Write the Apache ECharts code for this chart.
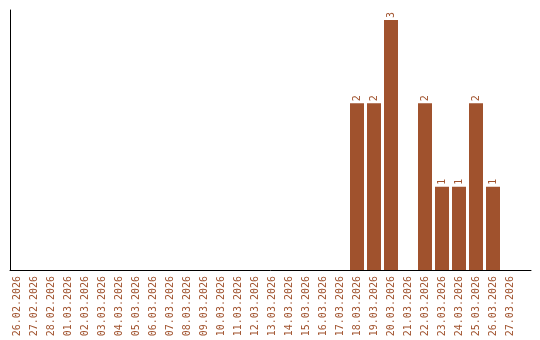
<!DOCTYPE html>
<html>
<head>
<meta charset="utf-8">
<script src="https://cdn.jsdelivr.net/npm/echarts@6/dist/echarts.min.js"></script>
<style>html,body{margin:0;padding:0;background:#fff}#c{width:540px;height:340px}</style>
</head>
<body>
<div id="c"></div>
<script>
var categories = ["26.02.2026","27.02.2026","28.02.2026","01.03.2026","02.03.2026","03.03.2026","04.03.2026","05.03.2026","06.03.2026","07.03.2026","08.03.2026","09.03.2026","10.03.2026","11.03.2026","12.03.2026","13.03.2026","14.03.2026","15.03.2026","16.03.2026","17.03.2026","18.03.2026","19.03.2026","20.03.2026","21.03.2026","22.03.2026","23.03.2026","24.03.2026","25.03.2026","26.03.2026","27.03.2026"];
var values = [0,0,0,0,0,0,0,0,0,0,0,0,0,0,0,0,0,0,0,0,2,2,3,0,2,1,1,2,1,0];
var barColor = "#A0522D";
var font = "DejaVu Sans Mono";

var chart = echarts.init(document.getElementById('c'), null, {renderer: 'canvas'});
chart.setOption({
  animation: false,
  grid: [
    {left: 8.5, width: 510, top: 10, height: 260},
    {left: 10, right: 9, top: 10, height: 260}
  ],
  xAxis: [
    {type: 'category', gridIndex: 0, data: categories,
     axisLine: {show: false}, axisTick: {show: false},
     axisLabel: {rotate: 90, interval: 0, color: barColor, fontFamily: font, fontSize: 10, margin: 6}},
    {type: 'value', gridIndex: 1, min: 0, max: 1,
     axisLine: {show: true, lineStyle: {color: '#000', width: 1}}, axisTick: {show: false},
     axisLabel: {show: false}, splitLine: {show: false}}
  ],
  yAxis: [
    {type: 'value', gridIndex: 0, min: 0, max: 3.12,
     axisLine: {show: false}, axisTick: {show: false}, axisLabel: {show: false}, splitLine: {show: false}},
    {type: 'value', gridIndex: 1, min: 0, max: 1,
     axisLine: {show: true, lineStyle: {color: '#000', width: 1}}, axisTick: {show: false},
     axisLabel: {show: false}, splitLine: {show: false}}
  ],
  series: [{
    type: 'bar', xAxisIndex: 0, yAxisIndex: 0,
    data: values.map(function(v){ return v === 0 ? null : v; }),
    barWidth: 14,
    itemStyle: {color: barColor},
    label: {show: true, position: 'top', rotate: 90, align: 'left', verticalAlign: 'middle',
      distance: 2, color: barColor, fontFamily: font, fontSize: 10}
  }]
});
</script>
</body>
</html>
